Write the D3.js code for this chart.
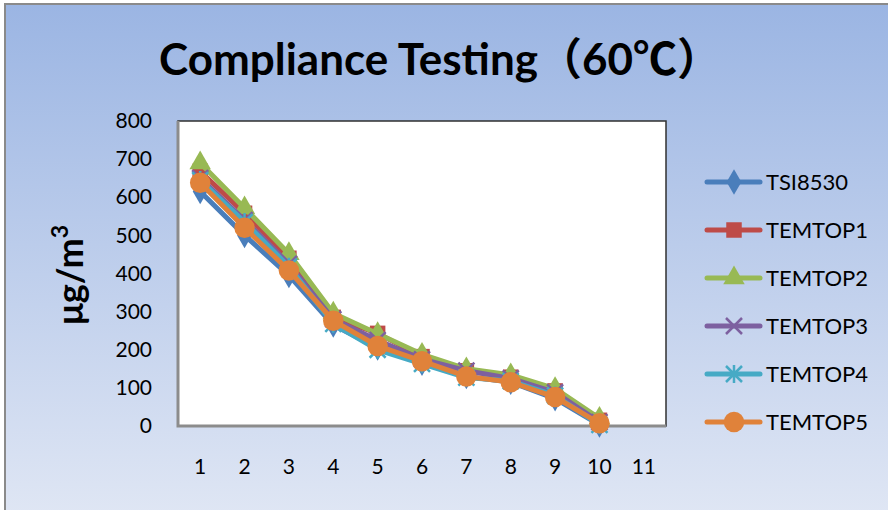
<!DOCTYPE html>
<html lang="en">
<head>
<meta charset="UTF-8">
<title>Compliance Testing</title>
<style>
  body { margin: 0; }
  svg { display: block; font-family: Lato, "Noto Sans CJK SC", sans-serif; }
</style>
</head>
<body>
<svg></svg>
<script src="https://d3js.org/d3.v7.min.js"></script>
<script>
const categories = ['1', '2', '3', '4', '5', '6', '7', '8', '9', '10', '11'];
const yTicks = [0, 100, 200, 300, 400, 500, 600, 700, 800];
const seriesNames = ['TSI8530', 'TEMTOP1', 'TEMTOP2', 'TEMTOP3', 'TEMTOP4', 'TEMTOP5'];
const tsi8530 = [615, 500, 395, 265, 205, 165, 130, 115, 72, 3];
const temtop1 = [668, 558, 440, 285, 243, 182, 145, 128, 92, 15];
const temtop2 = [690, 572, 452, 296, 242, 188, 150, 134, 98, 20];
const temtop3 = [650, 540, 425, 280, 225, 175, 145, 125, 88, 10];
const temtop4 = [645, 535, 418, 268, 200, 163, 127, 118, 80, 3];
const temtop5 = [638, 520, 408, 276, 210, 170, 130, 115, 76, 7];

const seriesValues = [tsi8530, temtop1, temtop2, temtop3, temtop4, temtop5];
const colors = ['#4a7ebb', '#be4b48', '#98b954', '#7d60a0', '#46aac5', '#e0823a'];
const shapes = ['diamond', 'square', 'triangle', 'cross', 'star', 'circle'];

const W = 888, H = 510;
const plot = { left: 178, top: 121, right: 666, bottom: 426 };

const svg = d3.select('svg').attr('width', W).attr('height', H);

// background gradient
const defs = svg.append('defs');
const grad = defs.append('linearGradient').attr('id', 'bg')
  .attr('x1', 0).attr('y1', 0).attr('x2', 0).attr('y2', 1);
grad.append('stop').attr('offset', '0%').attr('stop-color', '#9bb5e3');
grad.append('stop').attr('offset', '100%').attr('stop-color', '#dfe6f4');

svg.append('rect').attr('x', 0).attr('y', 0).attr('width', W).attr('height', H).attr('fill', '#ffffff');
svg.append('rect').attr('x', 5).attr('y', 4).attr('width', W).attr('height', H)
  .attr('fill', 'url(#bg)').attr('stroke', '#8a8a8a').attr('stroke-width', 2);

const x = d3.scaleBand().domain(categories).range([plot.left, plot.right]);
const y = d3.scaleLinear().domain([0, 800]).range([plot.bottom, plot.top]);

// plot area
svg.append('rect')
  .attr('x', plot.left).attr('y', plot.top)
  .attr('width', plot.right - plot.left).attr('height', plot.bottom - plot.top)
  .attr('fill', '#ffffff').attr('stroke', '#303030').attr('stroke-width', 1.5);
svg.append('path')
  .attr('d', `M${plot.left},${plot.top}V${plot.bottom}H${plot.right}`)
  .attr('fill', 'none').attr('stroke', '#8c8c8c').attr('stroke-width', 3);

// axes (labels only)
const yAxis = svg.append('g')
  .attr('transform', `translate(${plot.left - 26},0)`)
  .call(d3.axisLeft(y).tickValues(yTicks).tickSize(0).tickPadding(0));
yAxis.select('.domain').remove();
yAxis.selectAll('text').attr('font-size', 21).attr('fill', '#000')
  .attr('font-family', 'Lato, sans-serif');

const xAxis = svg.append('g')
  .attr('transform', `translate(0,${plot.bottom + 33})`)
  .call(d3.axisBottom(x).tickSize(0).tickPadding(0));
xAxis.select('.domain').remove();
xAxis.selectAll('text').attr('font-size', 21).attr('fill', '#000')
  .attr('font-family', 'Lato, sans-serif');

// title
svg.append('text')
  .attr('x', 440).attr('y', 75)
  .attr('text-anchor', 'middle')
  .attr('font-size', 44).attr('font-weight', 'bold').attr('fill', '#000')
  .text('Compliance Testing（60℃）');

// y title
const yt = svg.append('text')
  .attr('transform', 'translate(83,275) rotate(-90)')
  .attr('text-anchor', 'middle')
  .attr('font-size', 36).attr('font-weight', 'bold').attr('fill', '#000');
yt.append('tspan').text('μg/m');
yt.append('tspan').attr('dy', -15).attr('font-size', 23).text('3');

function marker(g, shape, color, cx, cy) {
  const sym = {
    diamond: d3.symbol().type(d3.symbolDiamond).size(190),
    square: d3.symbol().type(d3.symbolSquare).size(240),
    triangle: d3.symbol().type(d3.symbolTriangle).size(200),
    circle: d3.symbol().type(d3.symbolCircle).size(330)
  };
  if (shape === 'cross') {
    const r = 8;
    g.append('path')
      .attr('d', `M${cx - r},${cy - r}L${cx + r},${cy + r}M${cx - r},${cy + r}L${cx + r},${cy - r}`)
      .attr('stroke', color).attr('stroke-width', 2.5).attr('fill', 'none');
  } else if (shape === 'star') {
    const r = 8;
    g.append('path')
      .attr('d', `M${cx - r},${cy - r}L${cx + r},${cy + r}M${cx - r},${cy + r}L${cx + r},${cy - r}M${cx},${cy - r - 1}V${cy + r + 1}`)
      .attr('stroke', color).attr('stroke-width', 2.5).attr('fill', 'none');
  } else {
    g.append('path').attr('d', sym[shape]())
      .attr('transform', `translate(${cx},${cy})`)
      .attr('fill', color);
  }
}

const line = d3.line()
  .x((d, i) => x(categories[i]) + x.bandwidth() / 2)
  .y(d => y(d));

seriesValues.forEach((vals, s) => {
  const g = svg.append('g');
  g.append('path').datum(vals)
    .attr('d', line)
    .attr('fill', 'none').attr('stroke', colors[s]).attr('stroke-width', 5)
    .attr('stroke-linejoin', 'round').attr('stroke-linecap', 'round');
  vals.forEach((v, i) => {
    marker(g, shapes[s], colors[s], x(categories[i]) + x.bandwidth() / 2, y(v));
  });
});

// legend
const legend = svg.append('g');
seriesNames.forEach((name, s) => {
  const ly = 182 + s * 48;
  legend.append('line')
    .attr('x1', 707).attr('x2', 760).attr('y1', ly).attr('y2', ly)
    .attr('stroke', colors[s]).attr('stroke-width', 5).attr('stroke-linecap', 'round');
  marker(legend, shapes[s], colors[s], 734, ly);
  legend.append('text')
    .attr('x', 766).attr('y', ly).attr('dy', '0.35em')
    .attr('font-size', 22).attr('fill', '#000')
    .text(name);
});
</script>
</body>
</html>
